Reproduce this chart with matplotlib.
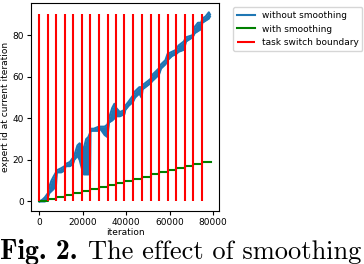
import numpy as np
import matplotlib
matplotlib.use('Agg')
import matplotlib.pyplot as plt

# task switch boundaries (iteration)
boundaries = [0, 3900, 7650, 11600, 15450, 19550, 23400, 27350, 31350, 35300,
              39150, 43100, 47100, 51200, 55050, 59000, 63000, 66950, 70800, 74750]
boundary_top = 90

# with smoothing: expert id stays at the task index
smooth_x = boundaries + [78800]
smooth_y = list(range(len(boundaries))) + [19]

# without smoothing: trace with lower/upper envelope of the oscillation
raw_x = [0, 1500, 2500, 3900, 4500, 5500, 6500, 7600, 8000, 10000, 11600, 12000,
         14000, 15400, 16000, 17500, 18500, 19500, 20500, 21500, 22500, 23300,
         23500, 25000, 27300, 28000, 30000, 31300, 32000, 33500, 34500, 35300,
         37000, 39100, 39500, 41000, 43100, 44000, 46000, 47000, 47500, 50000,
         51200, 52000, 55000, 56000, 58000, 59000, 61000, 63000, 64000, 66500,
         67500, 70500, 71500, 73000, 74500, 75000, 76500, 78000, 78500]
raw_lo = [0, 0, 0, 2, 4, 5, 6, 8, 14, 14, 15, 17,
          17, 18, 20, 22, 20, 16, 13, 13, 13, 15,
          34, 34, 34, 35, 32, 31, 38, 39, 40, 41,
          41, 42, 44, 46, 48, 50, 52, 50, 54, 56,
          57, 58, 61, 64, 66, 68, 70, 71, 72, 73,
          77, 79, 81, 82, 83, 86, 87, 88, 89]
raw_hi = [0, 1, 2, 4, 7, 10, 12, 14, 15, 16, 17, 18,
          19, 21, 22, 27, 28, 26, 26, 30, 31, 33,
          35, 35, 36, 36, 36, 37, 40, 45, 47, 45,
          43, 44, 46, 48, 51, 53, 55, 55, 56, 58,
          59, 61, 64, 66, 68, 71, 72, 73, 75, 77,
          79, 80, 84, 86, 86, 88, 89, 91, 90]


def main():
    fig = plt.figure(figsize=(3.64, 2.64), dpi=100)
    ax = fig.add_axes([0.085, 0.201, 0.517, 0.788])

    blue = '#1f77b4'
    ax.fill_between(raw_x, raw_lo, raw_hi, color=blue, lw=0)
    ax.plot(raw_x, raw_lo, color=blue, lw=1.5)
    ax.plot(raw_x, raw_hi, color=blue, lw=1.5, label='without smoothing')
    ax.step(smooth_x, smooth_y, where='post', color='green', lw=1.5,
            label='with smoothing')
    ax.vlines(boundaries, 0, boundary_top, colors='red', lw=1.5,
              label='task switch boundary')

    ax.set_xticks([0, 20000, 40000, 60000, 80000])
    ax.set_yticks([0, 20, 40, 60, 80])
    ax.tick_params(labelsize=6.5, length=3, pad=2)
    ax.set_xlabel('iteration', fontsize=6.5, labelpad=1)
    ax.set_ylabel('expert id at current iteration', fontsize=6.5, labelpad=2)

    ax.legend(loc='upper left', bbox_to_anchor=(1.05, 1.0), fontsize=6.5,
              frameon=True, handlelength=2.0, borderpad=0.4)

    y = 1 - 259 / 264
    fig.text(0.0, y, 'Fig. 2.', family='cmb10', fontsize=20, va='baseline')
    fig.text(88 / 364, y, 'The effect of smoothing', family='cmr10',
             fontsize=19, va='baseline')

    fig.savefig('out.png', dpi=100)


if __name__ == "__main__":
    main()
